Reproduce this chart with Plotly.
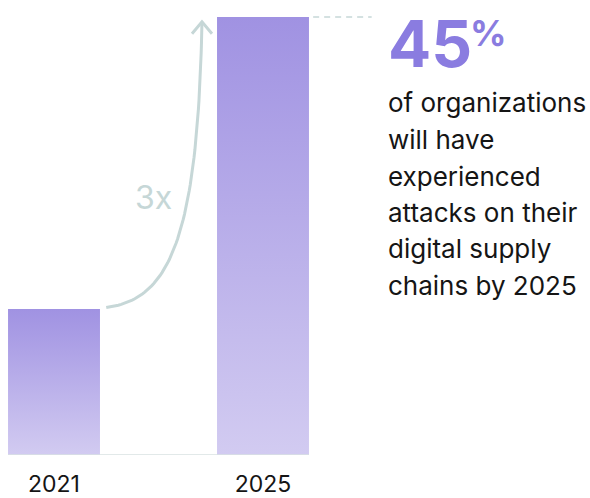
import plotly.graph_objects as go

# ---- data ----
years = ["2021", "2025"]
values = [15, 45]
multiplier_label = "3x"
headline_value = "45"
headline_unit = "%"
description_lines = [
    "of organizations",
    "will have",
    "experienced",
    "attacks on their",
    "digital supply",
    "chains by 2025",
]

# ---- style ----
W, H = 590, 498
BOTTOM = 41
BAR_TOP = "#a092e2"
BAR_BOTTOM = "#d2cbf1"
ACCENT = "#8a7ce0"
DECOR = "#c6d7d7"
TEXT = "#151515"
FONT = "Inter"

x_pos = list(range(len(years)))
half_w = 0.22
x_range = [-0.2584, 2.5646]
y_range = [0, 46.74]

fig = go.Figure()

# bars as gradient-filled shapes
for xi, v in zip(x_pos, values):
    fig.add_trace(go.Scatter(
        x=[xi - half_w, xi + half_w, xi + half_w, xi - half_w, xi - half_w],
        y=[0, 0, v, v, 0],
        mode="none", fill="toself",
        fillgradient=dict(type="vertical",
                          colorscale=[[0, BAR_BOTTOM], [1, BAR_TOP]]),
        hoverinfo="skip", showlegend=False,
    ))

# growth arrow (cubic bezier from top of first bar to top of second)
x0s, y0s = x_pos[0] + half_w + 0.03, values[0] + 0.15
x3s, y3s = x_pos[1] - half_w - 0.072, values[1] - 0.5
x1s, y1s = x0s + 0.30, y0s + 0.8
x2s, y2s = x3s - 0.02, y0s + 7.0
n = 60
cx, cy = [], []
for i in range(n + 1):
    t = i / n
    a, b, c, d = (1 - t) ** 3, 3 * (1 - t) ** 2 * t, 3 * (1 - t) * t ** 2, t ** 3
    cx.append(a * x0s + b * x1s + c * x2s + d * x3s)
    cy.append(a * y0s + b * y1s + c * y2s + d * y3s)
fig.add_trace(go.Scatter(x=cx, y=cy, mode="lines",
                         line=dict(color=DECOR, width=3),
                         hoverinfo="skip", showlegend=False))
hx, hy = 10 / 209, 12 / 9.777
fig.add_trace(go.Scatter(x=[x3s - hx, x3s, x3s + hx], y=[y3s - hy, y3s, y3s - hy],
                         mode="lines", line=dict(color=DECOR, width=3),
                         hoverinfo="skip", showlegend=False))

# baseline
fig.add_shape(type="line", xref="x", yref="y",
              x0=x_pos[0] - half_w, x1=x_pos[1] + half_w, y0=0, y1=0,
              line=dict(color="#d8e2e2", width=1.5))
# dashed leader
fig.add_shape(type="line", xref="x", yref="y",
              x0=x_pos[1] + half_w + 0.02, x1=x_pos[1] + half_w + 0.30,
              y0=values[1], y1=values[1],
              line=dict(color=DECOR, width=1.5, dash="6px,5px"))


def px_x(p):
    return p / W


def px_y(p):
    return (H - BOTTOM - p) / (H - BOTTOM)


ann = []
ann.append(dict(text=multiplier_label, x=px_x(153), y=px_y(198), xref="paper", yref="paper",
                showarrow=False, xanchor="center", yanchor="middle",
                font=dict(family=FONT, size=32, color=DECOR)))
ann.append(dict(text="<b>" + headline_value + "</b>", x=px_x(386), y=px_y(44), xref="paper", yref="paper",
                showarrow=False, xanchor="left", yanchor="middle",
                font=dict(family=FONT, size=64, color=ACCENT)))
ann.append(dict(text="<b>" + headline_unit + "</b>", x=px_x(468), y=px_y(33), xref="paper", yref="paper",
                showarrow=False, xanchor="left", yanchor="middle",
                font=dict(family=FONT, size=36, color=ACCENT)))
line_y = [103, 140, 177, 213, 250, 287]
for txt, yy in zip(description_lines, line_y):
    ann.append(dict(text=txt, x=px_x(386), y=px_y(yy), xref="paper", yref="paper",
                    showarrow=False, xanchor="left", yanchor="middle",
                    font=dict(family=FONT, size=26, color=TEXT)))

fig.update_layout(
    width=W, height=H,
    margin=dict(l=0, r=0, t=0, b=BOTTOM, pad=0),
    paper_bgcolor="white", plot_bgcolor="white",
    annotations=ann,
    xaxis=dict(range=x_range, tickvals=x_pos, ticktext=years, showgrid=False,
               zeroline=False, showline=False, ticks="", ticklabelstandoff=13,
               tickfont=dict(family=FONT, size=23, color=TEXT), fixedrange=True),
    yaxis=dict(range=y_range, showgrid=False, zeroline=False, showline=False,
               showticklabels=False, ticks="", fixedrange=True),
    showlegend=False,
)

fig.write_html("out.html")
